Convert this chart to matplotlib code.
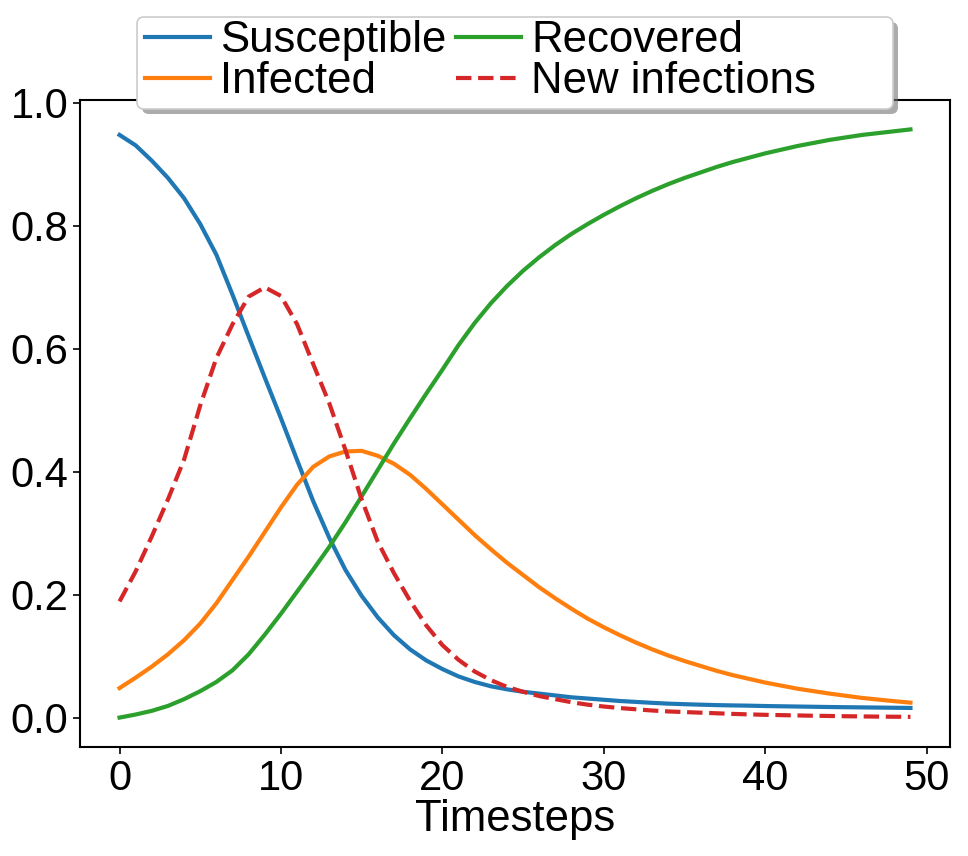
import matplotlib
matplotlib.use("Agg")
import matplotlib.pyplot as plt
from matplotlib.patches import FancyBboxPatch, Shadow
from matplotlib.transforms import IdentityTransform

# values, one per timestep (0..49)
timesteps = list(range(50))

susceptible = [0.948, 0.931, 0.906, 0.878, 0.845, 0.803, 0.753, 0.688, 0.620, 0.553,
               0.487, 0.419, 0.352, 0.292, 0.240, 0.198, 0.163, 0.134, 0.111, 0.093,
               0.079, 0.067, 0.058, 0.051, 0.046, 0.042, 0.039, 0.036, 0.033, 0.031,
               0.029, 0.027, 0.0255, 0.024, 0.0227, 0.0218, 0.021, 0.0203, 0.0198, 0.0194,
               0.0188, 0.0184, 0.018, 0.0176, 0.0172, 0.0169, 0.0166, 0.0163, 0.016, 0.0157]

infected = [0.048, 0.065, 0.083, 0.103, 0.126, 0.153, 0.186, 0.224, 0.262, 0.302,
            0.342, 0.379, 0.408, 0.425, 0.433, 0.434, 0.426, 0.413, 0.395, 0.372,
            0.347, 0.322, 0.297, 0.274, 0.252, 0.232, 0.212, 0.194, 0.177, 0.161,
            0.147, 0.134, 0.122, 0.111, 0.101, 0.092, 0.084, 0.076, 0.069, 0.063,
            0.057, 0.052, 0.047, 0.043, 0.039, 0.0355, 0.032, 0.0293, 0.0267, 0.0243]

recovered = [0.0, 0.005, 0.011, 0.019, 0.030, 0.043, 0.058, 0.077, 0.103, 0.135,
             0.169, 0.205, 0.241, 0.278, 0.318, 0.360, 0.403, 0.446, 0.487, 0.527,
             0.566, 0.606, 0.642, 0.674, 0.702, 0.727, 0.749, 0.769, 0.787, 0.803,
             0.818, 0.832, 0.845, 0.857, 0.868, 0.878, 0.887, 0.896, 0.904, 0.911,
             0.918, 0.924, 0.930, 0.935, 0.940, 0.944, 0.948, 0.951, 0.954, 0.957]

new_infections = [0.189, 0.238, 0.295, 0.355, 0.420, 0.508, 0.585, 0.640, 0.685, 0.700,
                  0.686, 0.640, 0.575, 0.511, 0.435, 0.355, 0.286, 0.235, 0.190, 0.150,
                  0.118, 0.094, 0.075, 0.061, 0.050, 0.042, 0.035, 0.030, 0.025, 0.021,
                  0.018, 0.0155, 0.0135, 0.0115, 0.010, 0.009, 0.008, 0.007, 0.006, 0.0052,
                  0.0045, 0.004, 0.0035, 0.003, 0.0026, 0.0022, 0.0019, 0.0016, 0.0014, 0.0012]

W, H, DPI = 968, 856, 100
FS = 31.5
TICK_FS = 30
plt.rcParams["font.family"] = ["Liberation Sans", "DejaVu Sans"]
plt.rcParams["font.size"] = FS

fig = plt.figure(figsize=(W / DPI, H / DPI), dpi=DPI)
ax = fig.add_axes([80 / W, 1 - 747 / H, 870 / W, 647 / H])

ax.plot(timesteps, susceptible, color="#1f77b4", lw=3, label="Susceptible")
ax.plot(timesteps, infected, color="#ff7f0e", lw=3, label="Infected")
ax.plot(timesteps, recovered, color="#2ca02c", lw=3, label="Recovered")
ax.plot(timesteps, new_infections, "--", color="#d62728", lw=3, label="New infections")

ax.set_xticks([0, 10, 20, 30, 40, 50])
ax.set_yticks([0.0, 0.2, 0.4, 0.6, 0.8, 1.0])
ax.tick_params(labelsize=TICK_FS, length=5, width=1.2)
ax.set_xlabel("Timesteps", fontsize=FS, labelpad=0)
for s in ax.spines.values():
    s.set_linewidth(1.5)

# legend box in the reference is wider than its entries, so the frame is drawn by hand
frame = FancyBboxPatch((137, H - 109), 756, 92, boxstyle="round,pad=0,rounding_size=7",
                       transform=IdentityTransform(), facecolor="white",
                       edgecolor="0.8", lw=1.2, zorder=4)
shadow = Shadow(frame, 3.6, -3.6, facecolor="0.45", edgecolor="none", alpha=0.6, zorder=3.9)
fig.add_artist(shadow)
fig.add_artist(frame)

h, l = ax.get_legend_handles_labels()
fs_px = FS * DPI / 72
leg = fig.legend(h, l, loc="upper left", bbox_to_anchor=(145 / W, 1 - 20 / H), ncol=2,
                 frameon=False, fontsize=FS, borderaxespad=0, borderpad=0,
                 handlelength=65 / fs_px, handletextpad=10 / fs_px,
                 columnspacing=10 / fs_px, labelspacing=0.0)
leg.set_zorder(5)

fig.savefig("out.png", dpi=DPI)
